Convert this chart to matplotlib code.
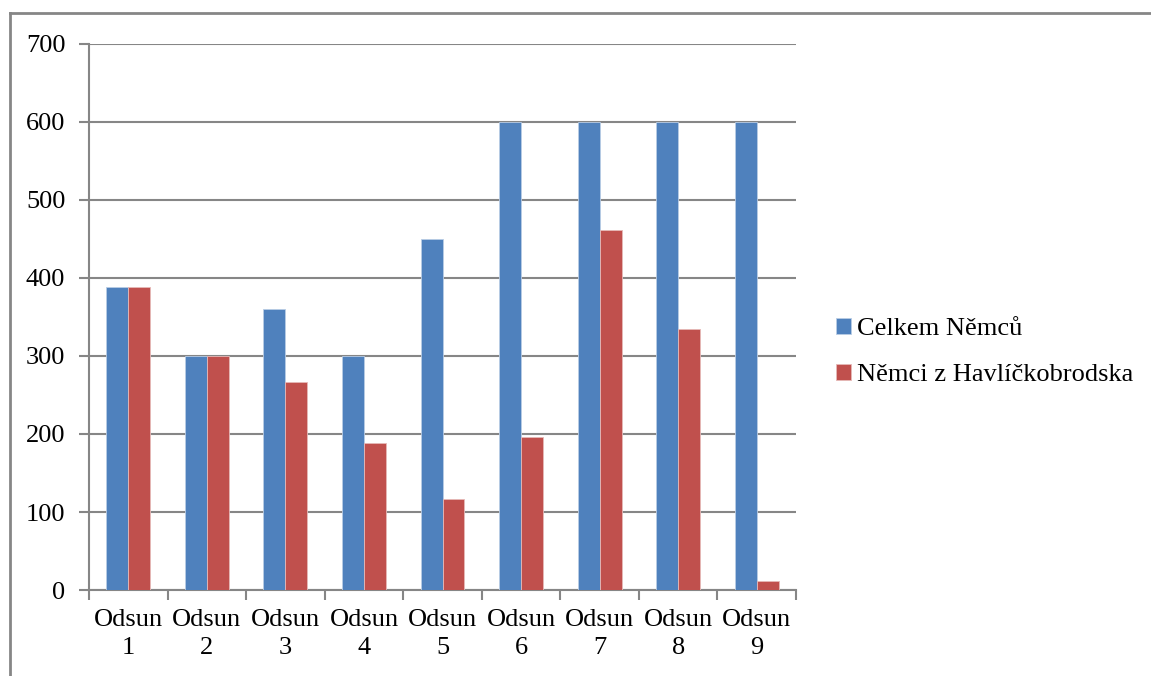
import matplotlib
matplotlib.use("Agg")
import matplotlib.pyplot as plt
from matplotlib.lines import Line2D
import numpy as np

plt.rcParams['font.family'] = ['Liberation Serif', 'DejaVu Serif']
plt.rcParams['font.size'] = 19

# data
categories = ["Odsun\n1", "Odsun\n2", "Odsun\n3", "Odsun\n4", "Odsun\n5",
              "Odsun\n6", "Odsun\n7", "Odsun\n8", "Odsun\n9"]
celkem = [388, 300, 360, 300, 450, 600, 600, 600, 600]
havl = [388, 300, 267, 188, 117, 196, 461, 335, 12]
series_names = ["Celkem Němců", "Němci z Havlíčkobrodska"]

blue = "#4f81bd"
red = "#c0504d"
grey = "#868686"

fig = plt.figure(figsize=(11.51, 6.76), dpi=100)
ax = fig.add_axes([0.0773, 0.1272, 0.6143, 0.8078])

x = np.arange(len(categories))
w = 0.28
ax.bar(x - w/2, celkem, w, color=blue, edgecolor="#b9cde5", linewidth=0.6,
       label=series_names[0], zorder=3)
ax.bar(x + w/2, havl, w, color=red, edgecolor="#e6b9b8", linewidth=0.6,
       label=series_names[1], zorder=3)

ax.set_ylim(0, 700)
ax.set_yticks(range(0, 701, 100))
ax.set_xlim(-0.5, len(categories) - 0.5)
ax.set_xticks(x)
ax.set_xticklabels(categories, linespacing=1.35)
ax.set_xticks(np.arange(-0.5, len(categories), 1), minor=True)
ax.tick_params(axis='x', which='major', length=0, pad=14)
ax.tick_params(axis='x', which='minor', length=7, width=1.5, color=grey)
ax.tick_params(axis='y', length=7, width=1.5, color=grey, pad=10)

ax.grid(axis='y', color=grey, linewidth=1.5, zorder=0)
for s in ['top', 'right']:
    ax.spines[s].set_visible(False)
for s in ['left', 'bottom']:
    ax.spines[s].set_color(grey)
    ax.spines[s].set_linewidth(1.5)

leg = fig.legend(loc='center left', bbox_to_anchor=(0.706, 0.479), frameon=False,
                 handlelength=0.55, handleheight=0.55, handletextpad=0.25,
                 labelspacing=0.9, fontsize=19)

# chart frame
fig.add_artist(Line2D([0.0087, 1.0], [0.981, 0.981], color=grey, lw=2,
                      transform=fig.transFigure))
fig.add_artist(Line2D([0.0087, 0.0087], [0.0, 0.981], color=grey, lw=2,
                      transform=fig.transFigure))

plt.savefig("out.png", dpi=100)
